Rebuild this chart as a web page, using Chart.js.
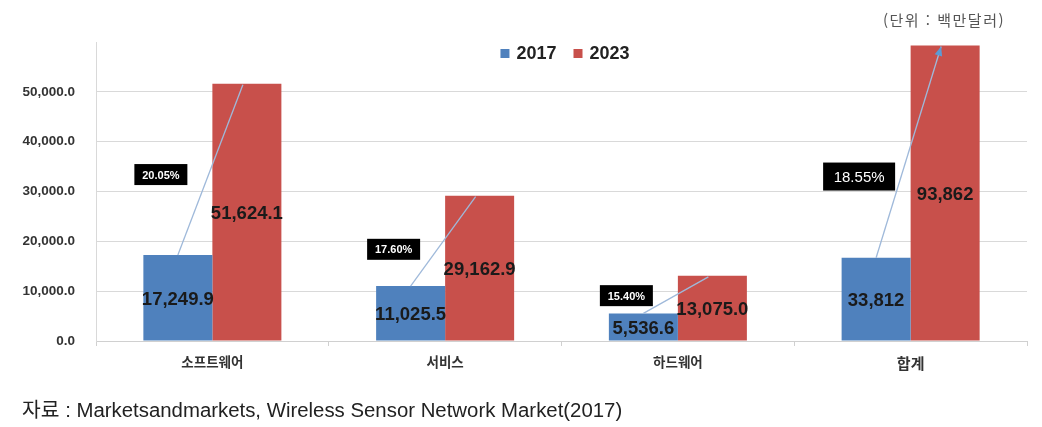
<!DOCTYPE html>
<html lang="ko">
<head>
<meta charset="UTF-8">
<title>무선 센서 네트워크 시장 전망</title>
<script src="https://cdn.jsdelivr.net/npm/chart.js"></script>
<style>
  body { margin: 0; background: #fff; }
  #wrap { position: relative; width: 1042px; height: 427px; }
  #unit { position: absolute; left: 883px; top: 9px; font: 15px "Noto Sans CJK KR"; color: #555; letter-spacing: 1.5px; }
  #source { position: absolute; left: 22px; top: 394px; font: 20px "Liberation Sans", "Noto Sans CJK KR"; color: #222; white-space: nowrap; transform-origin: 0 0; }
</style>
</head>
<body>
<div id="wrap">
  <canvas id="myChart" width="1042" height="427"></canvas>
  <div id="unit">(단위 : 백만달러)</div>
  <div id="source">자료 : Marketsandmarkets, Wireless Sensor Network Market(2017)</div>
</div>
<script>
const categories = ['소프트웨어', '서비스', '하드웨어', '합계'];
const years = ['2017', '2023'];
// bar heights as drawn in the picture (the 합계 bars are drawn shortened there)
const values2017 = [17249.9, 11025.5, 5536.6, 16700];
const values2023 = [51624.1, 29162.9, 13075.0, 59300];
const labels2017 = ['17,249.9', '11,025.5', '5,536.6', '33,812'];
const labels2023 = ['51,624.1', '29,162.9', '13,075.0', '93,862'];
const growthRates = ['20.05%', '17.60%', '15.40%', '18.55%'];
const yTicks = [0, 10000, 20000, 30000, 40000, 50000];

const BLUE = '#4f81bd';
const RED = '#c8504b';
const NUM_FONT = '"Liberation Sans", "Noto Sans CJK KR", sans-serif';

// the source line is set in a condensed face in the original
const src = document.getElementById('source');
src.style.transform = 'scaleX(' + (600 / src.scrollWidth) + ')';

// legend, value labels, growth arrows and rate boxes
const overlay = {
  id: 'overlay',
  afterDatasetsDraw(chart, args, opts) {
    const ctx = chart.ctx;
    const ys = chart.scales.y;
    const m0 = chart.getDatasetMeta(0).data;
    const m1 = chart.getDatasetMeta(1).data;
    ctx.save();

    // growth lines
    for (let i = 0; i < m0.length; i++) {
      const a = m0[i], b = m1[i];
      const x1 = a.x, y1 = a.y;
      const x2 = b.x - 4, y2 = b.y + 1;
      ctx.strokeStyle = '#9fb9da';
      ctx.lineWidth = 1.3;
      ctx.beginPath();
      ctx.moveTo(x1, y1);
      ctx.lineTo(x2, y2);
      ctx.stroke();
      if (i === m0.length - 1) {
        const ang = Math.atan2(y2 - y1, x2 - x1);
        ctx.fillStyle = '#5b9bd5';
        ctx.beginPath();
        ctx.moveTo(x2, y2);
        ctx.lineTo(x2 - 10 * Math.cos(ang - 0.4), y2 - 10 * Math.sin(ang - 0.4));
        ctx.lineTo(x2 - 10 * Math.cos(ang + 0.4), y2 - 10 * Math.sin(ang + 0.4));
        ctx.closePath();
        ctx.fill();
      }
    }

    // value labels in the middle of each bar
    ctx.fillStyle = '#1a1a1a';
    ctx.textAlign = 'center';
    ctx.textBaseline = 'middle';
    ctx.font = 'bold 18.5px ' + NUM_FONT;
    [[m0, labels2017], [m1, labels2023]].forEach(([bars, labels]) => {
      bars.forEach((bar, i) => {
        ctx.fillText(labels[i], bar.x, (bar.y + bar.base) / 2 + 2);
      });
    });

    // rate boxes
    m0.forEach((bar, i) => {
      const big = i === m0.length - 1;
      const w = big ? 72 : 53, h = big ? 28 : 21;
      const cx = bar.x - 17;
      const cy = ys.getPixelForValue(opts.boxLevels[i]);
      ctx.fillStyle = '#000';
      ctx.fillRect(cx - w / 2, cy - h / 2, w, h);
      ctx.fillStyle = '#fff';
      ctx.font = big ? '15px ' + NUM_FONT : 'bold 11px ' + NUM_FONT;
      ctx.fillText(growthRates[i], cx, cy + 1);
    });

    // legend
    ctx.font = 'bold 18px ' + NUM_FONT;
    ctx.textAlign = 'left';
    const items = chart.data.datasets.map(d => ({ label: d.label, color: d.backgroundColor, w: ctx.measureText(d.label).width }));
    const total = items.reduce((s, it) => s + 16 + it.w, 0) + 17 * (items.length - 1);
    let x = 565 - total / 2;
    items.forEach(it => {
      ctx.fillStyle = it.color;
      ctx.fillRect(x, 49, 9, 9);
      ctx.fillStyle = '#222';
      ctx.fillText(it.label, x + 16, 54);
      x += 16 + it.w + 17;
    });
    ctx.restore();
  }
};

new Chart(document.getElementById('myChart'), {
  type: 'bar',
  data: {
    labels: categories,
    datasets: [
      { label: years[0], data: values2017, backgroundColor: BLUE, categoryPercentage: 0.593, barPercentage: 1 },
      { label: years[1], data: values2023, backgroundColor: RED, categoryPercentage: 0.593, barPercentage: 1 }
    ]
  },
  plugins: [overlay],
  options: {
    responsive: false,
    animation: false,
    layout: { padding: { top: 42, right: 15, left: 0, bottom: 0 } },
    plugins: {
      legend: { display: false },
      tooltip: { enabled: false },
      overlay: { boxLevels: [33400, 18400, 9100, 33000] }
    },
    scales: {
      x: {
        afterFit: s => { s.height = 86; },
        grid: { drawOnChartArea: false, tickLength: 5, color: '#d0d0d0' },
        border: { color: '#d0d0d0' },
        ticks: {
          padding: 8,
          color: '#333',
          font: c => c.index === 3
            ? { size: 15, weight: 'bold', family: '"Noto Sans CJK KR"' }
            : { size: 13.5, weight: 'bold', family: '"Noto Sans CJK KR"' }
        }
      },
      y: {
        min: 0,
        max: 60000,
        afterFit: s => { s.width = 96; },
        afterBuildTicks: s => { s.ticks = yTicks.map(v => ({ value: v })); },
        grid: { drawTicks: false, color: '#d9d9d9' },
        border: { color: '#d9d9d9' },
        ticks: {
          padding: 21,
          color: '#333',
          font: { size: 13.5, weight: 'bold', family: NUM_FONT },
          callback: v => v.toLocaleString('en-US', { minimumFractionDigits: 1, maximumFractionDigits: 1 })
        }
      }
    }
  }
});
</script>
</body>
</html>
